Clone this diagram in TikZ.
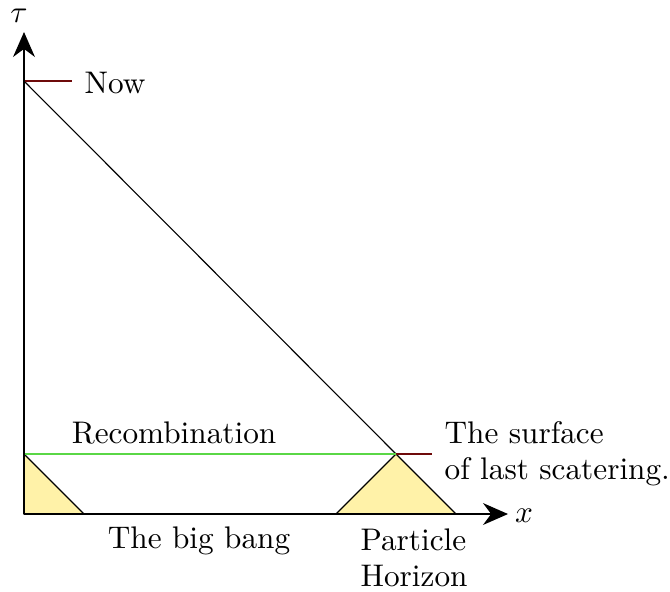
\documentclass[tikz,border=0pt]{standalone}
\usetikzlibrary{arrows.meta}
\definecolor{hyellow}{RGB}{255,242,168}
\definecolor{recgreen}{RGB}{90,215,70}
\definecolor{tickred}{RGB}{110,10,10}
\begin{document}
\begin{tikzpicture}[x=0.32pt,y=-0.32pt,
  axis/.style={line width=0.5pt,-{Stealth[length=8pt,width=7pt,inset=2.6pt]}},
  thin line/.style={line width=0.35pt},
  cone/.style={fill=hyellow,draw=black,line width=0.4pt},
  lbl/.style={inner sep=0pt,font=\fontsize{10pt}{11.5pt}\selectfont}]
\useasboundingbox (0,0) rectangle (670,591);
\coordinate (O) at (24,514);
\coordinate (T) at (24,32);
\coordinate (X) at (508,514);
\coordinate (N) at (24,81);
\coordinate (Nend) at (72,81);
\coordinate (S) at (396,454);
\coordinate (Send) at (432,454);
\coordinate (R) at (24,454);
\coordinate (L1) at (84,514);
\coordinate (P1) at (336,514);
\coordinate (P2) at (456,514);
% cones
\draw[cone] (R) -- (L1) -- (O) -- cycle;
\draw[cone] (P1) -- (S) -- (P2) -- cycle;
% lines
\draw[thin line] (N) -- (S);
\draw[thin line,recgreen] (R) -- (S);
\draw[thin line,tickred] (N) -- (Nend);
\draw[thin line,tickred] (S) -- (Send);
% axes
\draw[axis] (O) -- (T);
\draw[axis] (O) -- (X);
% labels
\node[lbl] (tau) at (19,16) {$\tau$};
\node[lbl] (xl) at (524,516) {$x$};
\node[lbl,anchor=west] (now) at (84,83) {Now};
\node[lbl] (rec) at (174,433) {Recombination};
\node[lbl,anchor=north west,align=left] (surf) at (444,421) {The surface\\of last scatering.};
\node[lbl] (bb) at (199,541) {The big bang};
\node[lbl,anchor=north west,align=left] (ph) at (360,528) {Particle\\Horizon};
\end{tikzpicture}
\end{document}
